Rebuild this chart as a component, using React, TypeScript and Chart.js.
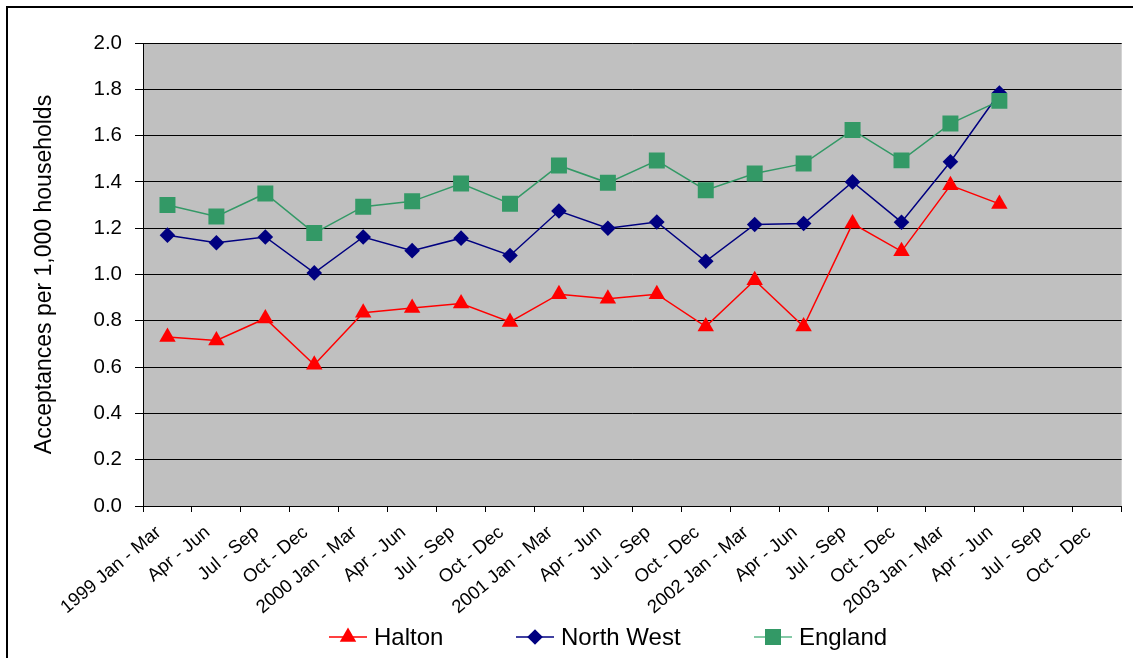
import React, { useEffect, useRef } from 'react';
import { Chart, registerables } from 'chart.js';

Chart.register(...registerables);

// Quarterly periods shown on the category axis
const quarters = [
  '1999 Jan - Mar', 'Apr - Jun', 'Jul - Sep', 'Oct - Dec',
  '2000 Jan - Mar', 'Apr - Jun', 'Jul - Sep', 'Oct - Dec',
  '2001 Jan - Mar', 'Apr - Jun', 'Jul - Sep', 'Oct - Dec',
  '2002 Jan - Mar', 'Apr - Jun', 'Jul - Sep', 'Oct - Dec',
  '2003 Jan - Mar', 'Apr - Jun', 'Jul - Sep', 'Oct - Dec',
];

// Acceptances per 1,000 households
const halton = [
  0.73, 0.715, 0.81, 0.61, 0.835, 0.855, 0.875, 0.795, 0.915, 0.895,
  0.915, 0.775, 0.975, 0.775, 1.22, 1.1, 1.385, 1.305, null, null,
];
const northWest = [
  1.17, 1.137, 1.162, 1.007, 1.162, 1.103, 1.157, 1.082, 1.274, 1.2,
  1.227, 1.057, 1.216, 1.22, 1.4, 1.226, 1.487, 1.784, null, null,
];
const england = [
  1.3, 1.251, 1.35, 1.179, 1.293, 1.316, 1.393, 1.306, 1.471, 1.396,
  1.492, 1.364, 1.436, 1.479, 1.624, 1.493, 1.652, 1.75, null, null,
];

const yMin = 0;
const yMax = 2;
const yStep = 0.2;
const yTitle = 'Acceptances per 1,000 households';

const FONT = 'Arial, "Liberation Sans", sans-serif';
const RED = '#FF0000';
const NAVY = '#000080';
const GREEN = '#339966';
const PLOT_BG = '#C0C0C0';
const X_LABEL_ANGLE = 40;

type Shape = 'triangle' | 'diamond' | 'square';

function drawMarker(ctx: CanvasRenderingContext2D, shape: Shape, x: number, y: number, color: string) {
  ctx.save();
  ctx.fillStyle = color;
  ctx.beginPath();
  if (shape === 'triangle') {
    const r = 9.5;
    ctx.moveTo(x, y - r);
    ctx.lineTo(x + r * Math.sin((2 * Math.PI) / 3), y + r / 2);
    ctx.lineTo(x - r * Math.sin((2 * Math.PI) / 3), y + r / 2);
  } else if (shape === 'diamond') {
    const r = 7.8;
    ctx.moveTo(x - r, y);
    ctx.lineTo(x, y - r);
    ctx.lineTo(x + r, y);
    ctx.lineTo(x, y + r);
  } else {
    const h = 8;
    ctx.rect(x - h, y - h, 2 * h, 2 * h);
  }
  ctx.closePath();
  ctx.fill();
  ctx.restore();
}

const legendItems: { label: string; color: string; line: string; shape: Shape; x: number }[] = [
  { label: 'Halton', color: RED, line: RED, shape: 'triangle', x: 329 },
  { label: 'North West', color: NAVY, line: NAVY, shape: 'diamond', x: 516 },
  { label: 'England', color: GREEN, line: '#5DB88A', shape: 'square', x: 754 },
];

const decorations = {
  id: 'decorations',
  beforeDraw(chart: Chart) {
    const { ctx, chartArea: a } = chart;
    ctx.save();
    ctx.fillStyle = '#FFFFFF';
    ctx.fillRect(0, 0, chart.width, chart.height);
    ctx.fillStyle = PLOT_BG;
    ctx.fillRect(a.left, a.top, a.right - a.left, a.bottom - a.top);
    ctx.restore();
  },
  afterDraw(chart: Chart) {
    const { ctx } = chart;
    ctx.save();
    // outer frame of the chart object
    ctx.fillStyle = '#000000';
    ctx.fillRect(6, 6, 2, chart.height - 6);
    ctx.fillRect(6, 6, chart.width - 6, 2);

    // slanted category labels, ending just left of each category centre
    const xs: any = chart.scales.x;
    ctx.font = `18.5px ${FONT}`;
    ctx.fillStyle = '#000000';
    ctx.textAlign = 'right';
    ctx.textBaseline = 'alphabetic';
    quarters.forEach((q, i) => {
      const px = xs.getPixelForValue(i);
      ctx.save();
      ctx.translate(px - 5.5, xs.top + 28);
      ctx.rotate((-X_LABEL_ANGLE * Math.PI) / 180);
      ctx.fillText(q, 0, 0);
      ctx.restore();
    });

    // legend: line with marker, then label
    const y = 637;
    ctx.font = `24px ${FONT}`;
    ctx.textBaseline = 'middle';
    ctx.textAlign = 'left';
    for (const item of legendItems) {
      ctx.strokeStyle = item.line;
      ctx.lineWidth = 1.5;
      ctx.beginPath();
      ctx.moveTo(item.x, y);
      ctx.lineTo(item.x + 38, y);
      ctx.stroke();
      drawMarker(ctx, item.shape, item.x + 19, y, item.color);
      ctx.fillStyle = '#000000';
      ctx.fillText(item.label, item.x + 45, y + 1);
    }
    ctx.restore();
  },
};

export default function App() {
  const canvasRef = useRef<HTMLCanvasElement | null>(null);

  useEffect(() => {
    const canvas = canvasRef.current;
    if (!canvas) return;
    const chart = new Chart(canvas, {
      type: 'line',
      data: {
        labels: quarters,
        datasets: [
          {
            label: 'Halton',
            data: halton,
            borderColor: RED,
            backgroundColor: RED,
            borderWidth: 1.5,
            pointStyle: 'triangle',
            pointRadius: 9.5,
            pointBorderWidth: 0,
            pointBackgroundColor: RED,
            order: 2,
          },
          {
            label: 'North West',
            data: northWest,
            borderColor: NAVY,
            backgroundColor: NAVY,
            borderWidth: 1.5,
            pointStyle: 'rectRot',
            pointRadius: 7.8,
            pointBorderWidth: 0,
            pointBackgroundColor: NAVY,
            order: 1,
          },
          {
            label: 'England',
            data: england,
            borderColor: GREEN,
            backgroundColor: GREEN,
            borderWidth: 1.5,
            pointStyle: 'rect',
            pointRadius: 11.3,
            pointBorderWidth: 0,
            pointBackgroundColor: GREEN,
            order: 0,
          },
        ],
      },
      options: {
        animation: false,
        responsive: false,
        devicePixelRatio: 1,
        layout: { padding: { top: 43, right: 10, left: 0, bottom: 0 } },
        plugins: {
          legend: { display: false },
          tooltip: { enabled: false },
          title: { display: false },
        },
        elements: { line: { tension: 0 } },
        scales: {
          x: {
            type: 'category',
            offset: true,
            grid: {
              offset: true,
              drawOnChartArea: false,
              drawTicks: true,
              tickLength: 6,
              tickColor: '#000000',
              lineWidth: 1,
            },
            border: { display: true, color: '#000000', width: 1 },
            ticks: { display: false, autoSkip: false },
            afterFit(scale: any) {
              scale.height = 152;
            },
          },
          y: {
            min: yMin,
            max: yMax,
            grid: {
              color: '#000000',
              lineWidth: 1,
              tickLength: 8,
              tickColor: '#000000',
            },
            border: { display: true, color: '#000000', width: 1 },
            ticks: {
              stepSize: yStep,
              padding: 13,
              color: '#000000',
              font: { family: FONT, size: 20.5 },
              callback: (v: any) => Number(v).toFixed(1),
            },
            title: {
              display: true,
              text: yTitle,
              color: '#000000',
              font: { family: FONT, size: 23, weight: 'normal' },
              padding: { top: 31, bottom: 0 },
            },
            afterFit(scale: any) {
              scale.width = 143;
            },
          },
        },
      },
      plugins: [decorations],
    });
    return () => chart.destroy();
  }, []);

  return (
    <div style={{ position: 'fixed', left: 0, top: 0, width: 1133, height: 658, background: '#fff' }}>
      <canvas ref={canvasRef} width={1133} height={658} style={{ display: 'block' }} />
    </div>
  );
}
